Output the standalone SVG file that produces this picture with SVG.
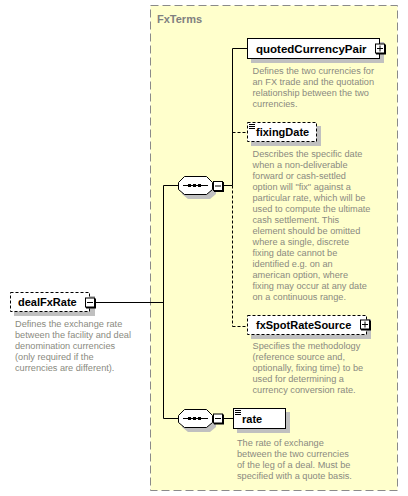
<svg xmlns="http://www.w3.org/2000/svg" width="408" height="496" viewBox="0 0 408 496">
<style>
.name{font-family:"Liberation Sans",Arial,sans-serif;font-weight:bold;font-size:11px;fill:#000}
.desc{font-family:"Liberation Sans",Arial,sans-serif;font-size:9.2px;fill:#8a8a80}
.title{font-family:"Liberation Sans",Arial,sans-serif;font-weight:bold;font-size:11px;fill:#808080}
.box{fill:#fff;stroke:#000;stroke-width:1}
.dbox{fill:#fff;stroke:#000;stroke-width:1;stroke-dasharray:3,2}
.shadow{fill:#c0c0c0}
.ln{fill:none;stroke:#000;stroke-width:1}
.dln{fill:none;stroke:#000;stroke-width:1;stroke-dasharray:3,2}
.icon{fill:#fff;stroke:#000;stroke-width:1}
</style>
<defs>
<g id="minus"><rect x="1" y="1" width="10" height="10" fill="#000"/><rect class="icon" x="0.5" y="0.5" width="9" height="9"/><path class="ln" d="M2,5H8"/></g>
<g id="plus"><rect x="1" y="1" width="10" height="10" fill="#000"/><rect class="icon" x="0.5" y="0.5" width="9" height="9"/><path class="ln" d="M2,5H8M5,2V8"/></g>
<g id="seq">
<path class="shadow" d="M10,5H32L38,11V18L32,23H10L4,18V11Z"/>
<path class="box" d="M6.5,0.5H28.5L34.5,6.5V13.5L28.5,18.5H6.5L0.5,13.5V6.5Z"/>
<path class="ln" d="M5,9.5H30"/>
<rect x="10" y="8" width="3" height="3" fill="#000"/>
<rect x="15" y="8" width="3" height="3" fill="#000"/>
<rect x="20" y="8" width="3" height="3" fill="#000"/>
</g>
<path id="lines3" d="M0,0.5H6M0,2.5H6M0,4.5H6" fill="none" stroke="#000" stroke-width="1"/>
</defs>

<g id="FxTerms">
<rect x="150.5" y="5.5" width="247" height="485" fill="#FFFFCC" stroke="#8a8a8a" stroke-width="1" stroke-dasharray="8,4"/>
<text class="title" x="157" y="22.5">FxTerms</text>
</g>

<g id="connectors">
<path class="ln" d="M95,302.5H163.5M163.5,185.5V418.5M163.5,185.5H178M163.5,418.5H178"/>
<path class="ln" d="M223,185.5H232.5M232.5,48.5V185.5M232.5,48.5H247"/>
<path class="dln" d="M232.5,185.5V326.5M232.5,132.5H247M232.5,326.5H247"/>
<path class="ln" d="M223,418.5H233"/>
</g>

<g id="dealFxRate">
<rect class="shadow" x="14" y="296" width="81" height="20"/>
<rect class="dbox" x="10.5" y="292.5" width="79" height="19"/>
<text class="name" x="18" y="306">dealFxRate</text>
<use href="#minus" x="85" y="297.5"/>
<text class="desc"><tspan x="15" y="326.5">Defines the exchange rate</tspan><tspan x="15" y="337.5">between the facility and deal</tspan><tspan x="15" y="348.5">denomination currencies</tspan><tspan x="15" y="359.5">(only required if the</tspan><tspan x="15" y="370.5">currencies are different).</tspan></text>
</g>

<g id="sequence1">
<use href="#seq" x="178" y="176"/>
<use href="#minus" x="213" y="181"/>
</g>

<g id="sequence2">
<use href="#seq" x="178" y="409"/>
<use href="#minus" x="213" y="413.5"/>
</g>

<g id="quotedCurrencyPair">
<rect class="shadow" x="251" y="42" width="133" height="21"/>
<rect class="box" x="247.5" y="38.5" width="132" height="20"/>
<text class="name" x="256" y="52.5" style="font-size:11.5px">quotedCurrencyPair</text>
<use href="#plus" x="375" y="43.5"/>
<text class="desc"><tspan x="252.5" y="74">Defines the two currencies for</tspan><tspan x="252.5" y="85">an FX trade and the quotation</tspan><tspan x="252.5" y="96">relationship between the two</tspan><tspan x="252.5" y="107">currencies.</tspan></text>
</g>

<g id="fixingDate">
<rect class="shadow" x="251" y="126" width="70" height="20"/>
<rect class="dbox" x="247.5" y="122.5" width="69" height="19"/>
<use href="#lines3" x="249" y="124"/>
<text class="name" x="256" y="136">fixingDate</text>
<text class="desc"><tspan x="252.5" y="156.5">Describes the specific date</tspan><tspan x="252.5" y="167.5">when a non-deliverable</tspan><tspan x="252.5" y="178.5">forward or cash-settled</tspan><tspan x="252.5" y="189.5">option will "fix" against a</tspan><tspan x="252.5" y="200.5">particular rate, which will be</tspan><tspan x="252.5" y="211.5">used to compute the ultimate</tspan><tspan x="252.5" y="222.5">cash settlement. This</tspan><tspan x="252.5" y="233.5">element should be omitted</tspan><tspan x="252.5" y="244.5">where a single, discrete</tspan><tspan x="252.5" y="255.5">fixing date cannot be</tspan><tspan x="252.5" y="266.5">identified e.g. on an</tspan><tspan x="252.5" y="277.5">american option, where</tspan><tspan x="252.5" y="288.5">fixing may occur at any date</tspan><tspan x="252.5" y="299.5">on a continuous range.</tspan></text>
</g>

<g id="fxSpotRateSource">
<rect class="shadow" x="251" y="319" width="120" height="20"/>
<rect class="dbox" x="247.5" y="315.5" width="119" height="19"/>
<text class="name" x="256" y="329">fxSpotRateSource</text>
<use href="#plus" x="360" y="319.5"/>
<text class="desc"><tspan x="252.5" y="349">Specifies the methodology</tspan><tspan x="252.5" y="360">(reference source and,</tspan><tspan x="252.5" y="371">optionally, fixing time) to be</tspan><tspan x="252.5" y="382">used for determining a</tspan><tspan x="252.5" y="393">currency conversion rate.</tspan></text>
</g>

<g id="rate">
<rect class="shadow" x="237" y="412" width="53" height="21"/>
<rect class="box" x="233.5" y="408.5" width="52" height="20"/>
<use href="#lines3" x="235" y="410"/>
<text class="name" x="242" y="423">rate</text>
<text class="desc"><tspan x="237" y="445.5">The rate of exchange</tspan><tspan x="237" y="456.5">between the two currencies</tspan><tspan x="237" y="467.5">of the leg of a deal. Must be</tspan><tspan x="237" y="478.5">specified with a quote basis.</tspan></text>
</g>
</svg>
